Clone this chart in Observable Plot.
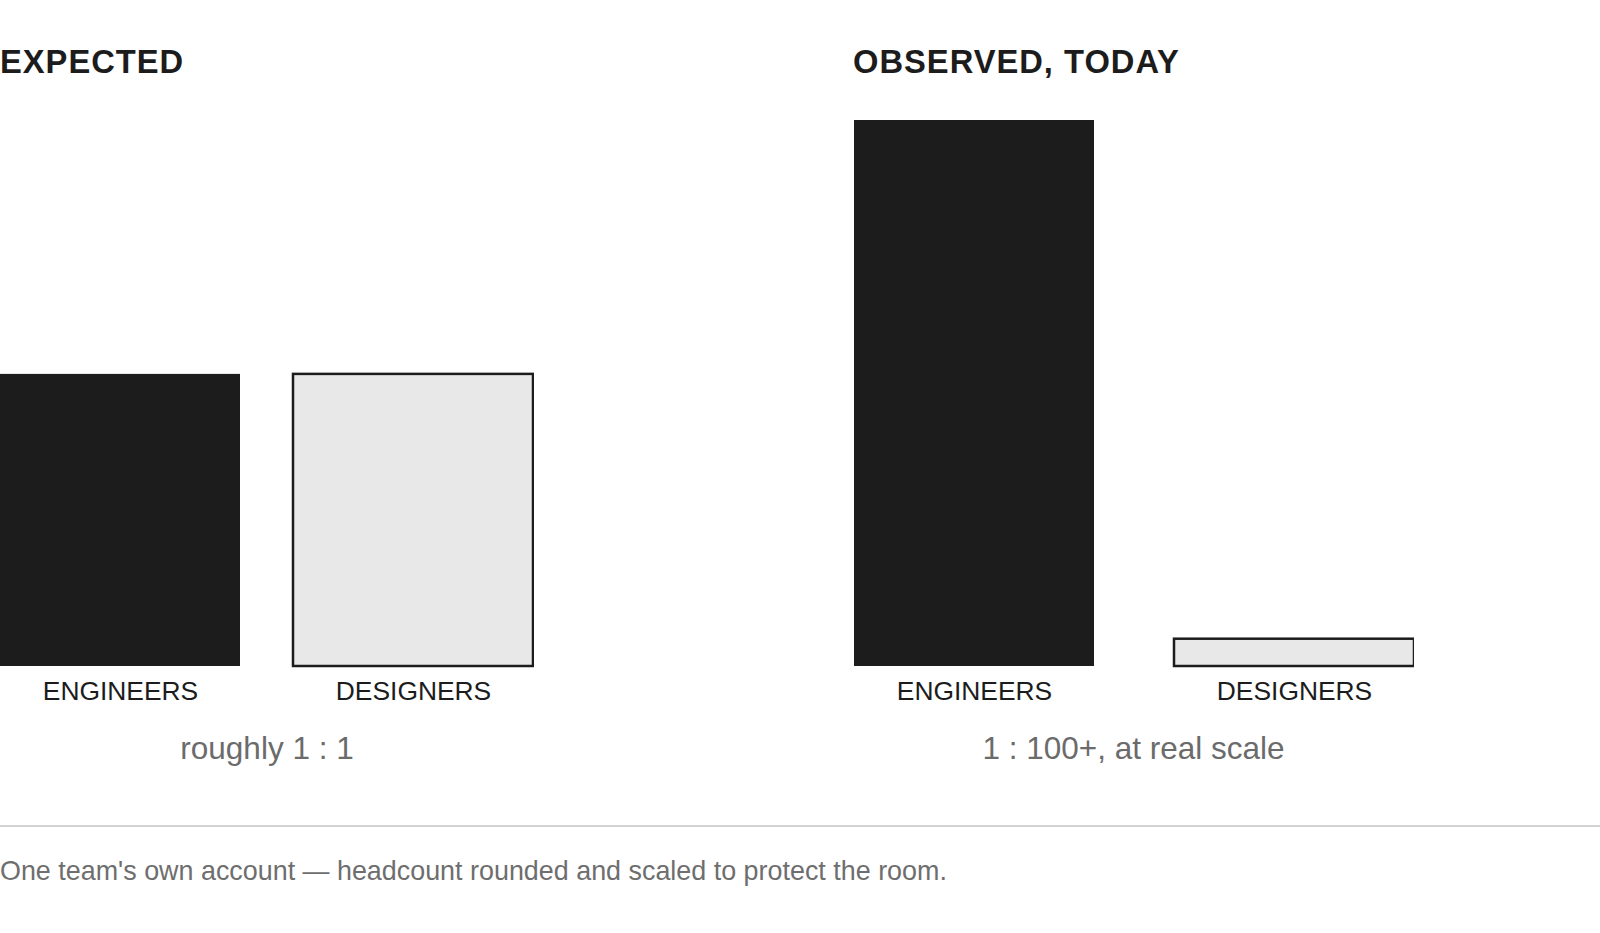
<!DOCTYPE html>
<html>
<head>
<meta charset="utf-8">
<script src="https://cdn.jsdelivr.net/npm/d3@7"></script>
<script src="https://cdn.jsdelivr.net/npm/@observablehq/plot@0.6"></script>
<style>
  html, body { margin: 0; padding: 0; background: #fff; }
  body { width: 1600px; height: 933px; position: relative; overflow: hidden;
         font-family: "Liberation Sans", Arial, Helvetica, sans-serif; color: #1c1c1c; }
  .panel { position: absolute; top: 0; }
  .title { position: absolute; left: 0; top: 45.5px; font-size: 32.7px; line-height: 32.7px;
           font-weight: bold; letter-spacing: 1px; white-space: nowrap; color: #1c1c1c; }
  .chart { position: absolute; left: 0; top: 100px; }
  .ratio { position: absolute; left: 0; right: 0; top: 733px; text-align: center;
           font-size: 31.5px; line-height: 31.5px; color: #6b6b6b; white-space: nowrap; }
  .rule { position: absolute; left: 0; top: 825px; width: 1600px; height: 2px; background: #d3d3d3; }
  .caption { position: absolute; left: 0; top: 857.5px; font-size: 26.9px; line-height: 26.9px;
             color: #6e6e6e; white-space: nowrap; }
</style>
</head>
<body>
<script>
// ---- data ----
const roles = ["ENGINEERS", "DESIGNERS"];
const expectedValues = [53.5, 53.5];
const observedValues = [100, 5];
const panelTitles = ["EXPECTED", "OBSERVED, TODAY"];
const ratioLabels = ["roughly 1 : 1", "1 : 100+, at real scale"];
const captionText = "One team's own account \u2014 headcount rounded and scaled to protect the room.";

const engineerFill = "#1c1c1c";
const designerFill = "#e8e8e8";

function makePanel(values, title, ratio, left, width, paddingInner) {
  const data = roles.map((r, i) => ({role: r, value: values[i]}));
  const panel = document.createElement("div");
  panel.className = "panel";
  panel.style.left = left + "px";
  panel.style.width = width + "px";

  const t = document.createElement("div");
  t.className = "title";
  t.textContent = title;
  panel.appendChild(t);

  const chart = Plot.plot({
    width: width,
    height: 612,
    marginTop: 20,
    marginBottom: 46,
    marginLeft: 0,
    marginRight: 0,
    style: {fontFamily: '"Liberation Sans", Arial, sans-serif', fontSize: "26.4px", color: "#1c1c1c", background: "transparent"},
    x: {domain: roles, paddingInner: paddingInner, paddingOuter: 0, label: null, tickSize: 0, tickPadding: 15},
    y: {domain: [0, 100], axis: null},
    marks: [
      Plot.barY(data.filter(d => d.role === "ENGINEERS"), {x: "role", y: "value", fill: engineerFill}),
      Plot.barY(data.filter(d => d.role === "DESIGNERS"), {x: "role", y: "value", fill: designerFill, stroke: engineerFill, strokeWidth: 2.5})
    ]
  });
  chart.classList.add("chart");
  panel.appendChild(chart);

  const rt = document.createElement("div");
  rt.className = "ratio";
  rt.textContent = ratio;
  panel.appendChild(rt);

  document.body.appendChild(panel);
}

makePanel(expectedValues, panelTitles[0], ratioLabels[0], 0, 534, 0.18);
makePanel(observedValues, panelTitles[1], ratioLabels[1], 853, 561, 0.25);

const rule = document.createElement("div");
rule.className = "rule";
document.body.appendChild(rule);

const cap = document.createElement("div");
cap.className = "caption";
cap.textContent = captionText;
document.body.appendChild(cap);
</script>
</body>
</html>
